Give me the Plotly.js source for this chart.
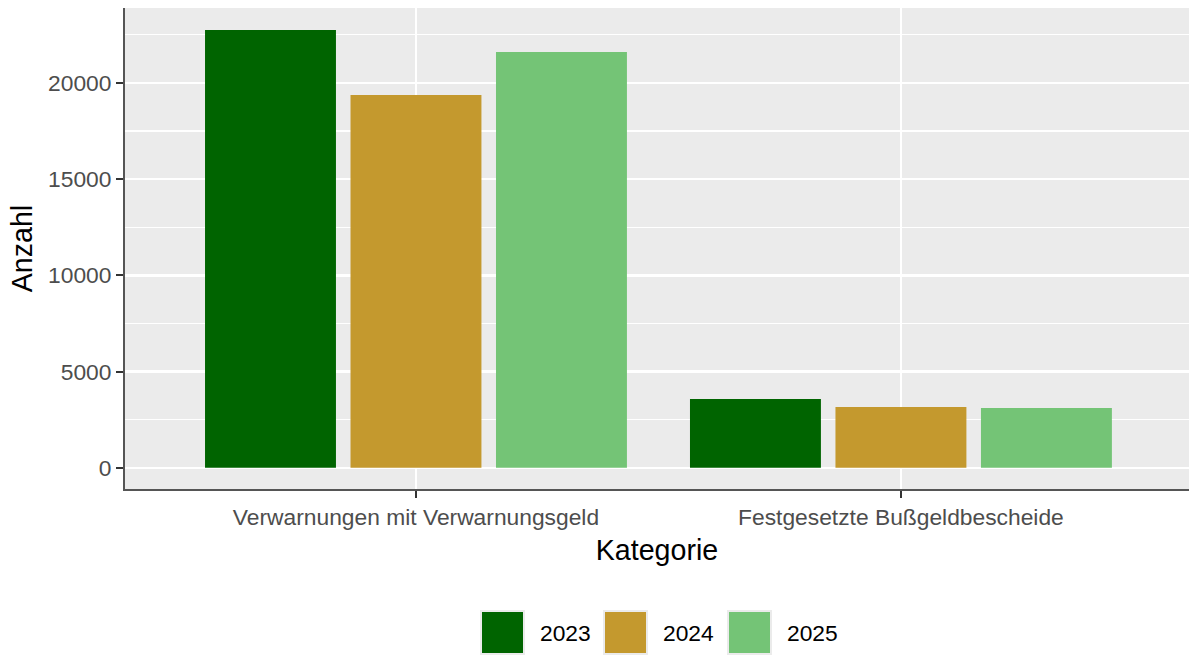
<!DOCTYPE html>
<html>
<head>
<meta charset="utf-8">
<script src="https://cdn.plot.ly/plotly-3.0.1.min.js"></script>
<style>html,body{margin:0;padding:0;background:#fff;}#chart{width:1189px;height:657px;}</style>
</head>
<body>
<div id="chart"></div>
<script>
const categories = ["Verwarnungen mit Verwarnungsgeld", "Festgesetzte Bußgeldbescheide"];
const years = ["2023", "2024", "2025"];
const values2023 = [22750, 3570];
const values2024 = [19370, 3160];
const values2025 = [21600, 3110];
const seriesValues = [values2023, values2024, values2025];
const colors = ["#006400", "#C4992E", "#74C476"];
const yTickVals = [0, 5000, 10000, 15000, 20000];
const yTickText = ["0", "5000", "10000", "15000", "20000"];

const FONT = "Liberation Sans, Arial, Helvetica, sans-serif";
const L = 125, R = 1189, T = 8, B = 489;
const W = 1189, H = 657;
const px = x => (x - L) / (R - L);
const py = y => (B - y) / (B - T);

const traces = years.map((yr, i) => ({
  type: "bar",
  name: yr,
  x: categories,
  y: seriesValues[i],
  marker: {color: colors[i], line: {width: 0}},
  showlegend: false,
  hoverinfo: "x+y+name"
}));

const keyLeft = [481, 604, 728];
const textLeft = [538, 661, 785];
const keySize = 43, keyTop = 611;
const shapes = [];
const annotations = [];
years.forEach((yr, i) => {
  shapes.push({
    type: "rect", xref: "paper", yref: "paper",
    x0: px(keyLeft[i]), x1: px(keyLeft[i] + keySize),
    y0: py(keyTop + keySize), y1: py(keyTop),
    fillcolor: colors[i], line: {color: "#EBEBEB", width: 2}
  });
  annotations.push({
    xref: "paper", yref: "paper",
    x: px(textLeft[i]), y: py(keyTop + keySize / 2),
    xanchor: "left", yanchor: "middle", showarrow: false,
    text: yr, font: {family: FONT, size: 22.8, color: "#000000"}
  });
});

const layout = {
  width: W, height: H,
  margin: {l: L, r: W - R, t: T, b: H - B, pad: 0},
  paper_bgcolor: "#FFFFFF",
  plot_bgcolor: "#EBEBEB",
  font: {family: FONT, color: "#000000"},
  barmode: "group",
  bargap: 0.1,
  bargroupgap: 0.1,
  showlegend: false,
  xaxis: {
    type: "category",
    range: [-0.6, 1.594],
    showgrid: true, gridcolor: "#FFFFFF", gridwidth: 2,
    showline: true, linecolor: "#555555", linewidth: 2,
    ticks: "outside", ticklen: 7, tickwidth: 2, tickcolor: "#333333",
    tickfont: {family: FONT, size: 22.8, color: "#4D4D4D"},
    zeroline: false,
    automargin: false,
    title: {text: "Kategorie", font: {family: FONT, size: 28.6, color: "#000000"}, standoff: 11}
  },
  yaxis: {
    range: [-1100, 23890],
    tickmode: "array", tickvals: yTickVals, ticktext: yTickText,
    showgrid: true, gridcolor: "#FFFFFF", gridwidth: 2.4,
    minor: {dtick: 2500, tick0: 0, showgrid: true, gridcolor: "#FFFFFF", gridwidth: 1.2, ticks: ""},
    showline: true, linecolor: "#555555", linewidth: 2,
    ticks: "outside", ticklen: 7, tickwidth: 2, tickcolor: "#333333",
    tickfont: {family: FONT, size: 22.8, color: "#4D4D4D"},
    zeroline: false,
    automargin: false,
    title: {text: "Anzahl", font: {family: FONT, size: 28.6, color: "#000000"}, standoff: 7}
  },
  shapes: shapes,
  annotations: annotations
};

Plotly.newPlot("chart", traces, layout, {displayModeBar: false, staticPlot: true});
</script>
</body>
</html>
